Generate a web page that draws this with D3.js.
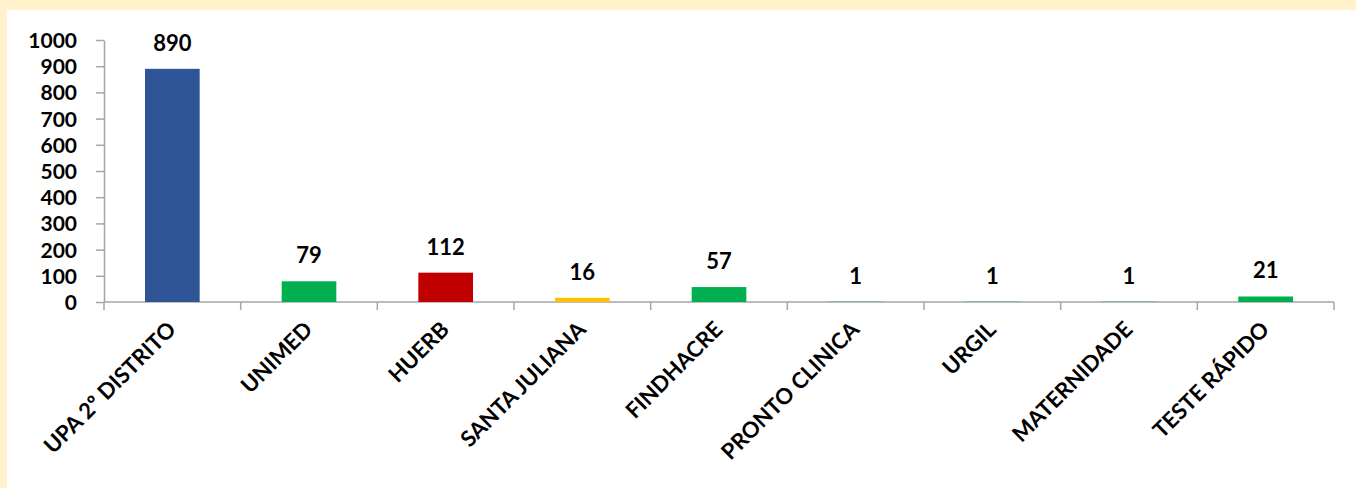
<!DOCTYPE html>
<html>
<head>
<meta charset="utf-8">
<script src="https://cdn.jsdelivr.net/npm/d3@7"></script>
<style>
  body { margin: 0; background: #FFF2CC; }
  #chart { position: absolute; left: 7px; top: 10px; width: 1349px; height: 478px; background: #fff; }
  text { font-family: Lato, "Open Sans", sans-serif; font-weight: bold; fill: #000; }
</style>
</head>
<body>
<div id="chart"></div>
<script>
const categories = ['UPA 2º DISTRITO', 'UNIMED', 'HUERB', 'SANTA JULIANA', 'FINDHACRE',
    'PRONTO CLINICA', 'URGIL', 'MATERNIDADE', 'TESTE RÁPIDO'];
const values = [890, 79, 112, 16, 57, 1, 1, 1, 21];
const colors = ['#2F5597', '#00B050', '#C00000', '#FFC000', '#00B050',
    '#00B050', '#00B050', '#00B050', '#00B050'];
const yTicks = [0, 100, 200, 300, 400, 500, 600, 700, 800, 900, 1000];

const width = 1349;
const height = 478;
// chart div sits at (7,10), so offsets are relative to it
const margin = { top: 30, left: 97, right: 22, bottom: 186 };

const svg = d3.select('#chart')
    .append('svg')
    .attr('width', width)
    .attr('height', height);

const x = d3.scaleBand()
    .domain(categories)
    .range([margin.left, width - margin.right])
    .paddingInner(0.6)
    .paddingOuter(0.3);

const y = d3.scaleLinear()
    .domain([0, 1000])
    .range([height - margin.bottom, margin.top]);

// y axis
const yAxis = svg.append('g')
    .attr('transform', `translate(${margin.left},0)`)
    .call(d3.axisLeft(y).tickValues(yTicks).tickFormat(d3.format('d'))
        .tickSize(8).tickPadding(19).tickSizeOuter(0));
yAxis.selectAll('text').attr('font-size', '21px').attr('dy', '0.36em');

// x axis with ticks at band boundaries
const boundaries = d3.range(categories.length + 1)
    .map(i => margin.left + i * (width - margin.right - margin.left) / categories.length);

const xAxisG = svg.append('g');
xAxisG.append('line')
    .attr('x1', margin.left).attr('x2', width - margin.right)
    .attr('y1', y(0)).attr('y2', y(0));
xAxisG.selectAll('line.tick')
    .data(boundaries)
    .enter()
    .append('line')
    .attr('class', 'tick')
    .attr('x1', d => d).attr('x2', d => d)
    .attr('y1', y(0)).attr('y2', y(0) + 8);

svg.selectAll('.domain, .tick line').attr('stroke', '#A6A6A6').attr('stroke-width', 1.5);
xAxisG.selectAll('line').attr('stroke', '#A6A6A6').attr('stroke-width', 1.5);

// bars
svg.append('g')
    .selectAll('rect')
    .data(values)
    .enter()
    .append('rect')
    .attr('x', (d, i) => x(categories[i]))
    .attr('width', x.bandwidth())
    .attr('y', d => y(d))
    .attr('height', d => y(0) - y(d))
    .attr('fill', (d, i) => colors[i]);

// value labels
svg.append('g')
    .selectAll('text')
    .data(values)
    .enter()
    .append('text')
    .attr('x', (d, i) => x(categories[i]) + x.bandwidth() / 2)
    .attr('y', d => y(d) - 18)
    .attr('text-anchor', 'middle')
    .attr('font-size', '22px')
    .text(d => d);

// category labels, rotated
svg.append('g')
    .selectAll('text')
    .data(categories)
    .enter()
    .append('text')
    .attr('transform', d => `translate(${x(d) + x.bandwidth() / 2 - 6},${y(0) + 18}) rotate(-45)`)
    .attr('text-anchor', 'end')
    .attr('dy', '0.7em')
    .attr('font-size', '22px')
    .text(d => d);
</script>
</body>
</html>
